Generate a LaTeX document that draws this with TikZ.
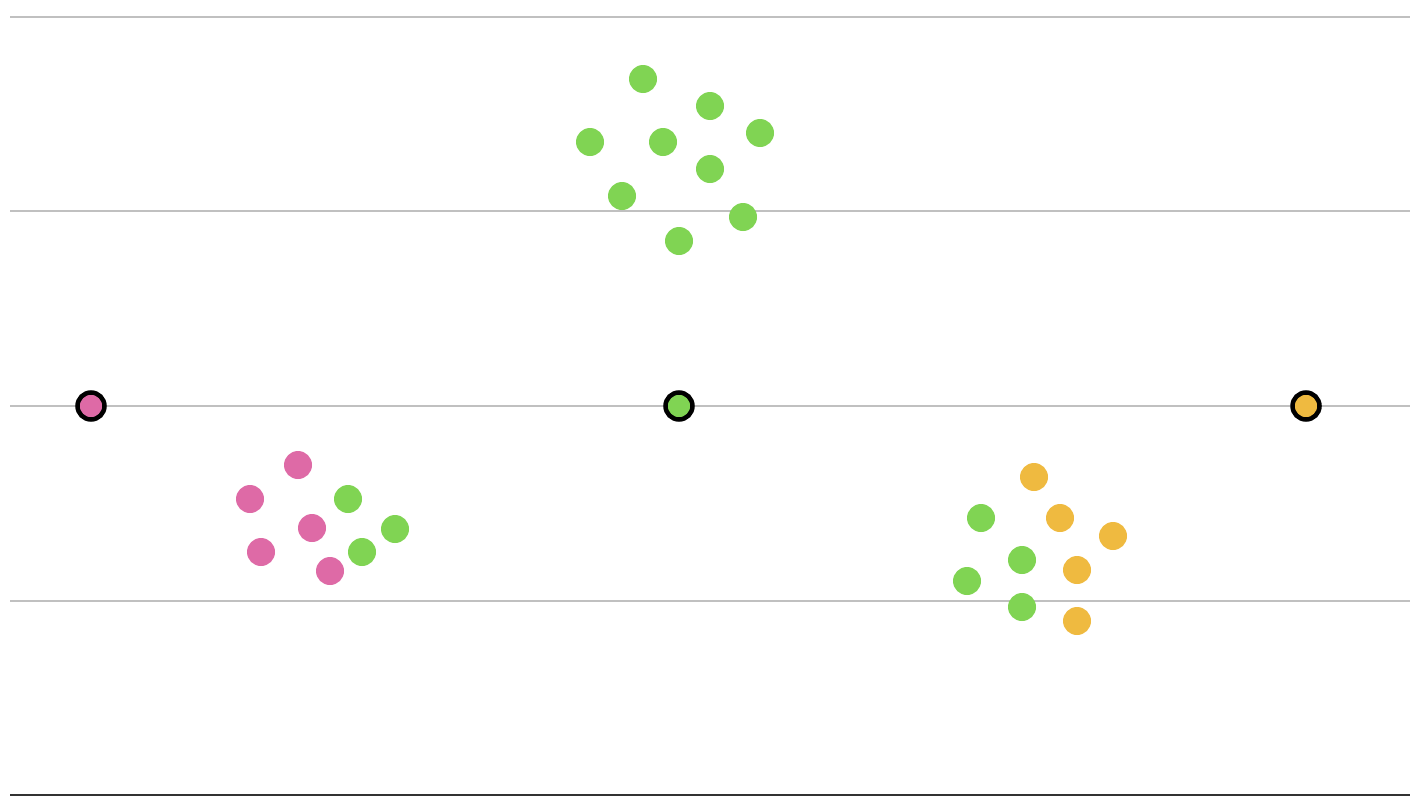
\documentclass[tikz,border=0pt]{standalone}
\usepackage{xcolor}
\usepackage{tikz}
\usetikzlibrary{positioning}

\definecolor{dotpink}{RGB}{222,106,166}
\definecolor{dotgreen}{RGB}{128,212,83}
\definecolor{dotyellow}{RGB}{239,186,64}
\definecolor{gridgray}{RGB}{192,192,192}
\definecolor{axisdark}{RGB}{50,50,50}

\begin{document}
\begin{tikzpicture}[
    x=1pt, y=-1pt,
    gridline/.style={draw=gridgray, line width=1.6pt},
    axisline/.style={draw=axisdark, line width=2pt},
    dot/.style={circle, inner sep=0pt, minimum size=28pt},
    center/.style={circle, inner sep=0pt, minimum size=27pt, draw=black, line width=4.5pt}
]
\useasboundingbox (0,0) rectangle (1416,806);

% Grid lines
\foreach \y/\n in {17/a, 211/b, 406/c, 601/d} {
    \coordinate (gl\n) at (10,\y);
    \coordinate (gr\n) at (1410,\y);
    \draw[gridline] (gl\n) -- (gr\n);
}
\coordinate (axl) at (10,795);
\coordinate (axr) at (1410,795);
\draw[axisline] (axl) -- (axr);

% Top cluster (all green)
\foreach \x/\y [count=\i] in {643/79, 710/106, 590/142, 663/142, 760/133, 710/169, 622/196, 743/217, 679/241}
    \node[dot, fill=dotgreen] (top\i) at (\x,\y) {};

% Left cluster
\foreach \x/\y [count=\i] in {298/465, 250/499, 312/528, 261/552, 330/571}
    \node[dot, fill=dotpink] (lp\i) at (\x,\y) {};
\foreach \x/\y [count=\i] in {348/499, 395/529, 362/552}
    \node[dot, fill=dotgreen] (lg\i) at (\x,\y) {};

% Right cluster
\foreach \x/\y [count=\i] in {1034/477, 1060/518, 1113/536, 1077/570, 1077/621}
    \node[dot, fill=dotyellow] (ry\i) at (\x,\y) {};
\foreach \x/\y [count=\i] in {981/518, 1022/560, 967/581, 1022/607}
    \node[dot, fill=dotgreen] (rg\i) at (\x,\y) {};

% Centres on the middle line
\node[center, fill=dotpink] (cpink) at (91,406) {};
\node[center, fill=dotgreen] (cgreen) at (679,406) {};
\node[center, fill=dotyellow] (cyellow) at (1306,406) {};

\end{tikzpicture}
\end{document}
